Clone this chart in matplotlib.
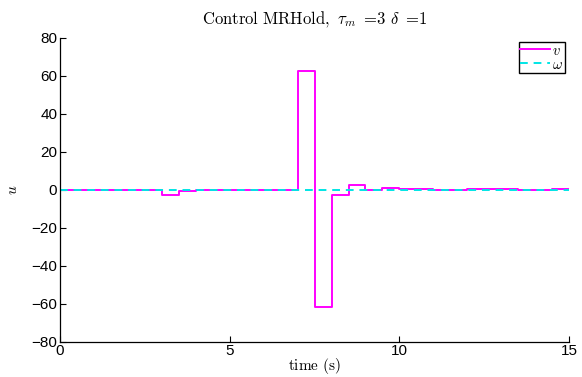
import numpy as np
import matplotlib.pyplot as plt

plt.rcParams['mathtext.fontset'] = 'cm'
plt.rcParams['font.family'] = 'Liberation Sans'

# sample instants (hold period 0.5 s)
t = np.arange(0, 15.5, 0.5)
# control input v held over each period (last value repeated for the final edge)
v = [0, 0, 0, 0, 0, 0,
     -2.8, -0.6,
     0, 0, 0, 0, 0, 0,
     62.5, -62.0, -2.7, 2.2, -0.4, 0.6,
     0.1, 0.2, 0.0, -0.1, 0.1, 0.2, 0.1, -0.1, 0.0, 0.1,
     0.1]
omega = [0.0] * len(t)

fig = plt.figure(figsize=(5.82, 3.77), dpi=100)
ax = fig.add_axes([0.103, 0.094, 0.875, 0.806])

ax.plot(t, v, color='#ff00ff', linewidth=1.4, drawstyle='steps-post', label=r'$v$')
ax.plot(t, omega, color='#00e5e5', linewidth=1.4, linestyle='--', dashes=(4, 3),
        drawstyle='steps-post', label=r'$\omega$')

ax.set_xlim(0, 15)
ax.set_ylim(-80, 80)
ax.set_xticks([0, 5, 10, 15])
ax.set_yticks(np.arange(-80, 81, 20))
ax.tick_params(direction='in', labelsize=11, length=4, width=0.8, pad=2)
for s in ['top', 'right']:
    ax.spines[s].set_visible(False)
ax.spines['left'].set_linewidth(0.9)
ax.spines['bottom'].set_linewidth(0.9)

ax.set_title(r'$\mathrm{Control\ MRHold,}\ \tau_m\ =\!3\ \delta\ =\!1$', fontsize=12, pad=10)
ax.set_xlabel(r'$\mathrm{time\ (s)}$', fontsize=11, labelpad=-2)
ax.set_ylabel(r'$u$', fontsize=11, labelpad=8)

leg = ax.legend(loc='upper right', fontsize=10.5, handlelength=2.0, handletextpad=0.2,
                borderpad=0.1, labelspacing=0.0, fancybox=False, framealpha=1,
                borderaxespad=0.3)
leg.get_frame().set_edgecolor('black')
leg.get_frame().set_linewidth(1.0)

fig.savefig('out.png', dpi=100)
